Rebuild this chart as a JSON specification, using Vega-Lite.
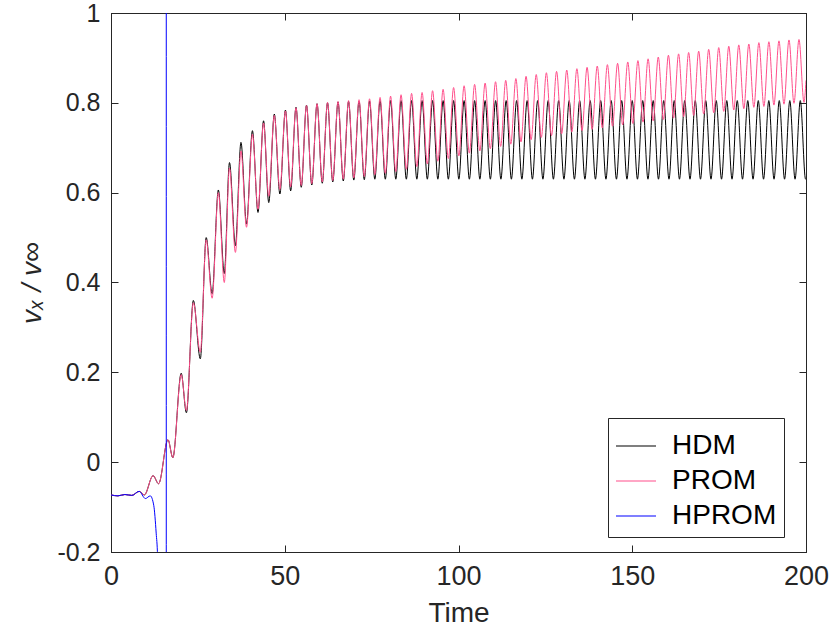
{
"$schema": "https://vega.github.io/schema/vega-lite/v6.json",
"width": 695, "height": 539,
"autosize": {"type": "none"},
"padding": {"left": 111, "top": 13, "right": 24, "bottom": 78},
"background": "white",
"config": {"view": {"stroke": "#262626", "strokeWidth": 1}, "font": "Liberation Sans",
 "axis": {"grid": false, "domainColor": "#262626", "tickColor": "#262626", "labelColor": "#262626", "titleColor": "#262626", "labelFont": "Liberation Sans", "titleFont": "Liberation Sans", "labelFontSize": 27, "titleFontSize": 28, "titleFontWeight": "normal", "tickSize": -7, "domainWidth": 1, "tickWidth": 1, "labelFlush": false},
 "legend": {"orient": "none", "legendX": 497, "legendY": 405, "labelFontSize": 28, "labelFont": "Liberation Sans", "labelColor": "#000000", "symbolType": "stroke", "symbolSize": 1600, "symbolStrokeWidth": 1.2, "rowPadding": -4, "padding": 7, "strokeColor": "#262626", "fillColor": "white", "labelOffset": 15, "cornerRadius": 0}
},
"data": {"values": [
{"s":"HDM","t":0,"v":-0.073},{"s":"HDM","t":2,"v":-0.075},{"s":"HDM","t":4,"v":-0.072},{"s":"HDM","t":6,"v":-0.074},{"s":"HDM","t":8.1,"v":-0.065},{"s":"HDM","t":9.6,"v":-0.073},{"s":"HDM","t":12.1,"v":-0.03},{"s":"HDM","t":13.7,"v":-0.048},{"s":"HDM","t":16.4,"v":0.05},{"s":"HDM","t":17.8,"v":0.01},{"s":"HDM","t":20.2,"v":0.198},{"s":"HDM","t":21.7,"v":0.11},{"s":"HDM","t":23.7,"v":0.36},{"s":"HDM","t":25.7,"v":0.23},{"s":"HDM","t":27.4,"v":0.5},{"s":"HDM","t":29.1,"v":0.375},{"s":"HDM","t":30.9,"v":0.606},{"s":"HDM","t":32.6,"v":0.42},{"s":"HDM","t":34.1,"v":0.667},{"s":"HDM","t":35.8,"v":0.482},{"s":"HDM","t":37.4,"v":0.712},{"s":"HDM","t":39.0,"v":0.53},{"s":"HDM","t":40.7,"v":0.738},{"s":"HDM","t":42.3,"v":0.556},{"s":"HDM","t":43.9,"v":0.76},{"s":"HDM","t":45.4,"v":0.578},{"s":"HDM","t":47.0,"v":0.775},{"s":"HDM","t":48.6,"v":0.597},{"s":"HDM","t":50.2,"v":0.784},{"s":"HDM","t":51.7,"v":0.604},
{"s":"HDM","t":53.24,"v":0.79},{"s":"HDM","t":54.75,"v":0.612},{"s":"HDM","t":56.26,"v":0.795},{"s":"HDM","t":57.78,"v":0.617},{"s":"HDM","t":59.29,"v":0.798},{"s":"HDM","t":60.8,"v":0.621},{"s":"HDM","t":62.31,"v":0.8},{"s":"HDM","t":63.82,"v":0.624},{"s":"HDM","t":65.33,"v":0.802},{"s":"HDM","t":66.85,"v":0.626},{"s":"HDM","t":68.36,"v":0.803},{"s":"HDM","t":69.87,"v":0.628},{"s":"HDM","t":71.38,"v":0.804},{"s":"HDM","t":72.89,"v":0.629},{"s":"HDM","t":74.4,"v":0.804},{"s":"HDM","t":75.92,"v":0.63},{"s":"HDM","t":77.43,"v":0.805},
{"s":"HDM","t":78.94,"v":0.63},{"s":"HDM","t":80.45,"v":0.805},{"s":"HDM","t":81.96,"v":0.63},{"s":"HDM","t":83.47,"v":0.805},{"s":"HDM","t":84.99,"v":0.63},{"s":"HDM","t":86.5,"v":0.805},{"s":"HDM","t":88.01,"v":0.63},{"s":"HDM","t":89.52,"v":0.805},{"s":"HDM","t":91.03,"v":0.63},{"s":"HDM","t":92.54,"v":0.805},{"s":"HDM","t":94.06,"v":0.63},{"s":"HDM","t":95.57,"v":0.805},{"s":"HDM","t":97.08,"v":0.63},{"s":"HDM","t":98.59,"v":0.805},{"s":"HDM","t":100.1,"v":0.63},{"s":"HDM","t":101.61,"v":0.805},{"s":"HDM","t":103.13,"v":0.63},{"s":"HDM","t":104.64,"v":0.805},{"s":"HDM","t":106.15,"v":0.63},{"s":"HDM","t":107.66,"v":0.805},{"s":"HDM","t":109.17,"v":0.63},{"s":"HDM","t":110.68,"v":0.805},{"s":"HDM","t":112.2,"v":0.63},{"s":"HDM","t":113.71,"v":0.805},{"s":"HDM","t":115.22,"v":0.63},{"s":"HDM","t":116.73,"v":0.805},{"s":"HDM","t":118.24,"v":0.63},{"s":"HDM","t":119.75,"v":0.805},{"s":"HDM","t":121.27,"v":0.63},{"s":"HDM","t":122.78,"v":0.805},{"s":"HDM","t":124.29,"v":0.63},{"s":"HDM","t":125.8,"v":0.805},{"s":"HDM","t":127.31,"v":0.63},{"s":"HDM","t":128.82,"v":0.805},{"s":"HDM","t":130.34,"v":0.63},{"s":"HDM","t":131.85,"v":0.805},{"s":"HDM","t":133.36,"v":0.63},{"s":"HDM","t":134.87,"v":0.805},{"s":"HDM","t":136.38,"v":0.63},{"s":"HDM","t":137.89,"v":0.805},{"s":"HDM","t":139.41,"v":0.63},{"s":"HDM","t":140.92,"v":0.805},{"s":"HDM","t":142.43,"v":0.63},{"s":"HDM","t":143.94,"v":0.805},{"s":"HDM","t":145.45,"v":0.63},{"s":"HDM","t":146.96,"v":0.805},{"s":"HDM","t":148.48,"v":0.63},{"s":"HDM","t":149.99,"v":0.805},{"s":"HDM","t":151.5,"v":0.63},{"s":"HDM","t":153.01,"v":0.805},{"s":"HDM","t":154.52,"v":0.63},{"s":"HDM","t":156.03,"v":0.805},{"s":"HDM","t":157.55,"v":0.63},{"s":"HDM","t":159.06,"v":0.805},{"s":"HDM","t":160.57,"v":0.63},{"s":"HDM","t":162.08,"v":0.805},{"s":"HDM","t":163.59,"v":0.63},{"s":"HDM","t":165.1,"v":0.805},{"s":"HDM","t":166.62,"v":0.63},{"s":"HDM","t":168.13,"v":0.805},{"s":"HDM","t":169.64,"v":0.63},{"s":"HDM","t":171.15,"v":0.805},{"s":"HDM","t":172.66,"v":0.63},{"s":"HDM","t":174.17,"v":0.805},{"s":"HDM","t":175.69,"v":0.63},{"s":"HDM","t":177.2,"v":0.805},{"s":"HDM","t":178.71,"v":0.63},{"s":"HDM","t":180.22,"v":0.805},{"s":"HDM","t":181.73,"v":0.63},{"s":"HDM","t":183.24,"v":0.805},{"s":"HDM","t":184.76,"v":0.63},{"s":"HDM","t":186.27,"v":0.805},{"s":"HDM","t":187.78,"v":0.63},{"s":"HDM","t":189.29,"v":0.805},{"s":"HDM","t":190.8,"v":0.63},{"s":"HDM","t":192.31,"v":0.805},{"s":"HDM","t":193.83,"v":0.63},{"s":"HDM","t":195.34,"v":0.805},{"s":"HDM","t":196.85,"v":0.63},{"s":"HDM","t":198.36,"v":0.805},{"s":"HDM","t":199.87,"v":0.63},{"s":"HDM","t":200,"v":0.631},
{"s":"PROM","t":0,"v":-0.073},{"s":"PROM","t":2,"v":-0.075},{"s":"PROM","t":4,"v":-0.072},{"s":"PROM","t":6,"v":-0.074},{"s":"PROM","t":8.1,"v":-0.065},{"s":"PROM","t":9.6,"v":-0.073},{"s":"PROM","t":12.1,"v":-0.03},{"s":"PROM","t":13.7,"v":-0.048},{"s":"PROM","t":16.4,"v":0.05},{"s":"PROM","t":17.8,"v":0.01},{"s":"PROM","t":20.2,"v":0.195},{"s":"PROM","t":21.7,"v":0.115},{"s":"PROM","t":23.7,"v":0.355},{"s":"PROM","t":25.7,"v":0.245},{"s":"PROM","t":27.4,"v":0.495},{"s":"PROM","t":29.1,"v":0.365},{"s":"PROM","t":30.9,"v":0.6},{"s":"PROM","t":32.6,"v":0.4},{"s":"PROM","t":34.1,"v":0.655},{"s":"PROM","t":35.8,"v":0.467},{"s":"PROM","t":37.4,"v":0.693},{"s":"PROM","t":39.0,"v":0.523},{"s":"PROM","t":40.7,"v":0.73},{"s":"PROM","t":42.3,"v":0.563},{"s":"PROM","t":43.9,"v":0.755},{"s":"PROM","t":45.4,"v":0.592},{"s":"PROM","t":47.0,"v":0.772},{"s":"PROM","t":48.6,"v":0.607},{"s":"PROM","t":50.2,"v":0.782},{"s":"PROM","t":51.7,"v":0.613},
{"s":"PROM","t":53.24,"v":0.789},{"s":"PROM","t":54.75,"v":0.616},{"s":"PROM","t":56.26,"v":0.794},{"s":"PROM","t":57.78,"v":0.62},{"s":"PROM","t":59.29,"v":0.798},{"s":"PROM","t":60.8,"v":0.624},{"s":"PROM","t":62.31,"v":0.801},{"s":"PROM","t":63.82,"v":0.627},{"s":"PROM","t":65.33,"v":0.803},{"s":"PROM","t":66.85,"v":0.63},{"s":"PROM","t":68.36,"v":0.805},{"s":"PROM","t":69.87,"v":0.633},{"s":"PROM","t":71.38,"v":0.807},{"s":"PROM","t":72.89,"v":0.636},{"s":"PROM","t":74.4,"v":0.809},{"s":"PROM","t":75.92,"v":0.64},{"s":"PROM","t":77.43,"v":0.812},{"s":"PROM","t":78.94,"v":0.643},{"s":"PROM","t":80.45,"v":0.815},{"s":"PROM","t":81.96,"v":0.647},{"s":"PROM","t":83.47,"v":0.818},{"s":"PROM","t":84.99,"v":0.652},{"s":"PROM","t":86.5,"v":0.821},{"s":"PROM","t":88.01,"v":0.658},{"s":"PROM","t":89.52,"v":0.823},{"s":"PROM","t":91.03,"v":0.664},{"s":"PROM","t":92.54,"v":0.827},{"s":"PROM","t":94.06,"v":0.67},{"s":"PROM","t":95.57,"v":0.83},{"s":"PROM","t":97.08,"v":0.676},{"s":"PROM","t":98.59,"v":0.834},{"s":"PROM","t":100.1,"v":0.682},{"s":"PROM","t":101.61,"v":0.838},{"s":"PROM","t":103.13,"v":0.688},{"s":"PROM","t":104.64,"v":0.841},{"s":"PROM","t":106.15,"v":0.693},{"s":"PROM","t":107.66,"v":0.844},{"s":"PROM","t":109.16,"v":0.698},{"s":"PROM","t":110.66,"v":0.847},{"s":"PROM","t":112.13,"v":0.703},{"s":"PROM","t":113.59,"v":0.85},{"s":"PROM","t":115.05,"v":0.708},{"s":"PROM","t":116.51,"v":0.854},{"s":"PROM","t":117.98,"v":0.713},{"s":"PROM","t":119.44,"v":0.859},{"s":"PROM","t":120.9,"v":0.718},{"s":"PROM","t":122.37,"v":0.863},{"s":"PROM","t":123.83,"v":0.723},{"s":"PROM","t":125.29,"v":0.867},{"s":"PROM","t":126.76,"v":0.727},{"s":"PROM","t":128.22,"v":0.87},{"s":"PROM","t":129.68,"v":0.731},{"s":"PROM","t":131.15,"v":0.873},{"s":"PROM","t":132.61,"v":0.735},{"s":"PROM","t":134.07,"v":0.876},{"s":"PROM","t":135.54,"v":0.738},{"s":"PROM","t":137.0,"v":0.879},{"s":"PROM","t":138.46,"v":0.741},{"s":"PROM","t":139.93,"v":0.882},{"s":"PROM","t":141.39,"v":0.744},{"s":"PROM","t":142.85,"v":0.885},{"s":"PROM","t":144.32,"v":0.748},{"s":"PROM","t":145.78,"v":0.888},{"s":"PROM","t":147.24,"v":0.751},{"s":"PROM","t":148.71,"v":0.891},{"s":"PROM","t":150.17,"v":0.754},{"s":"PROM","t":151.63,"v":0.894},{"s":"PROM","t":153.1,"v":0.757},{"s":"PROM","t":154.56,"v":0.898},{"s":"PROM","t":156.02,"v":0.76},{"s":"PROM","t":157.49,"v":0.902},{"s":"PROM","t":158.95,"v":0.763},{"s":"PROM","t":160.41,"v":0.906},{"s":"PROM","t":161.88,"v":0.766},{"s":"PROM","t":163.34,"v":0.909},{"s":"PROM","t":164.78,"v":0.769},{"s":"PROM","t":166.23,"v":0.912},{"s":"PROM","t":167.67,"v":0.772},{"s":"PROM","t":169.12,"v":0.915},{"s":"PROM","t":170.56,"v":0.775},{"s":"PROM","t":172.0,"v":0.919},{"s":"PROM","t":173.45,"v":0.778},{"s":"PROM","t":174.89,"v":0.923},{"s":"PROM","t":176.33,"v":0.781},{"s":"PROM","t":177.78,"v":0.926},{"s":"PROM","t":179.22,"v":0.784},{"s":"PROM","t":180.66,"v":0.929},{"s":"PROM","t":182.11,"v":0.787},{"s":"PROM","t":183.55,"v":0.931},{"s":"PROM","t":184.99,"v":0.79},{"s":"PROM","t":186.44,"v":0.934},{"s":"PROM","t":187.88,"v":0.792},{"s":"PROM","t":189.32,"v":0.936},{"s":"PROM","t":190.77,"v":0.795},{"s":"PROM","t":192.22,"v":0.938},{"s":"PROM","t":193.66,"v":0.797},{"s":"PROM","t":195.1,"v":0.94},{"s":"PROM","t":196.54,"v":0.799},{"s":"PROM","t":197.98,"v":0.941},{"s":"PROM","t":199.42,"v":0.801},{"s":"PROM","t":200,"v":0.85},
{"s":"HPROM","t":0,"v":-0.073},{"s":"HPROM","t":2,"v":-0.075},{"s":"HPROM","t":4,"v":-0.072},{"s":"HPROM","t":6,"v":-0.074},{"s":"HPROM","t":8.1,"v":-0.065},{"s":"HPROM","t":9.9,"v":-0.081},{"s":"HPROM","t":11.3,"v":-0.075},{"s":"HPROM","t":12.3,"v":-0.096},{"s":"HPROM","t":13.0,"v":-0.158},{"s":"HPROM","t":13.4,"v":-0.21},{"s":"HPROM","t":14.0,"v":-0.6},{"s":"HPROM","t":15.9,"v":-30},{"s":"HPROM","t":15.91,"v":30}
]},
"encoding": {
 "x": {"field": "t", "type": "quantitative", "scale": {"domain": [0, 200], "nice": false, "zero": false}},
 "y": {"field": "v", "type": "quantitative", "scale": {"domain": [-0.2, 1], "nice": false, "zero": false}},
 "color": {"field": "s", "type": "nominal", "scale": {"domain": ["HDM", "PROM", "HPROM"], "range": ["#000000", "#ff4f8b", "#0000ff"]}, "legend": {"title": null}}
},
"layer": [
 {"transform": [{"filter": "datum.s === 'HDM'"}], "mark": {"type": "line", "interpolate": "monotone", "strokeWidth": 1, "clip": true},
  "encoding": {
   "x": {"field": "t", "type": "quantitative", "axis": {"values": [0, 50, 100, 150, 200], "title": "Time", "labelPadding": 18, "titlePadding": 10, "titleFontSize": 28}},
   "y": {"field": "v", "type": "quantitative", "axis": {"values": [-0.2, 0, 0.2, 0.4, 0.6, 0.8, 1], "labelExpr": "datum.value + ''", "labelFontSize": 25, "title": "vₓ / v∞", "titleFontStyle": "italic", "labelPadding": 18, "titlePadding": 10}}
  }},
 {"transform": [{"filter": "datum.s === 'PROM'"}], "mark": {"type": "line", "interpolate": "monotone", "strokeWidth": 1, "clip": true},
  "encoding": {
   "x": {"field": "t", "type": "quantitative", "axis": {"orient": "top", "values": [0, 50, 100, 150, 200], "labels": false, "title": null}},
   "y": {"field": "v", "type": "quantitative", "axis": {"orient": "right", "values": [-0.2, 0, 0.2, 0.4, 0.6, 0.8, 1], "labels": false, "title": null}}
  }},
 {"transform": [{"filter": "datum.s === 'HPROM'"}], "mark": {"type": "line", "interpolate": "monotone", "strokeWidth": 1, "clip": true},
  "encoding": {
   "x": {"field": "t", "type": "quantitative", "axis": null},
   "y": {"field": "v", "type": "quantitative", "axis": null}
  }}
],
"resolve": {"axis": {"x": "independent", "y": "independent"}}
}
